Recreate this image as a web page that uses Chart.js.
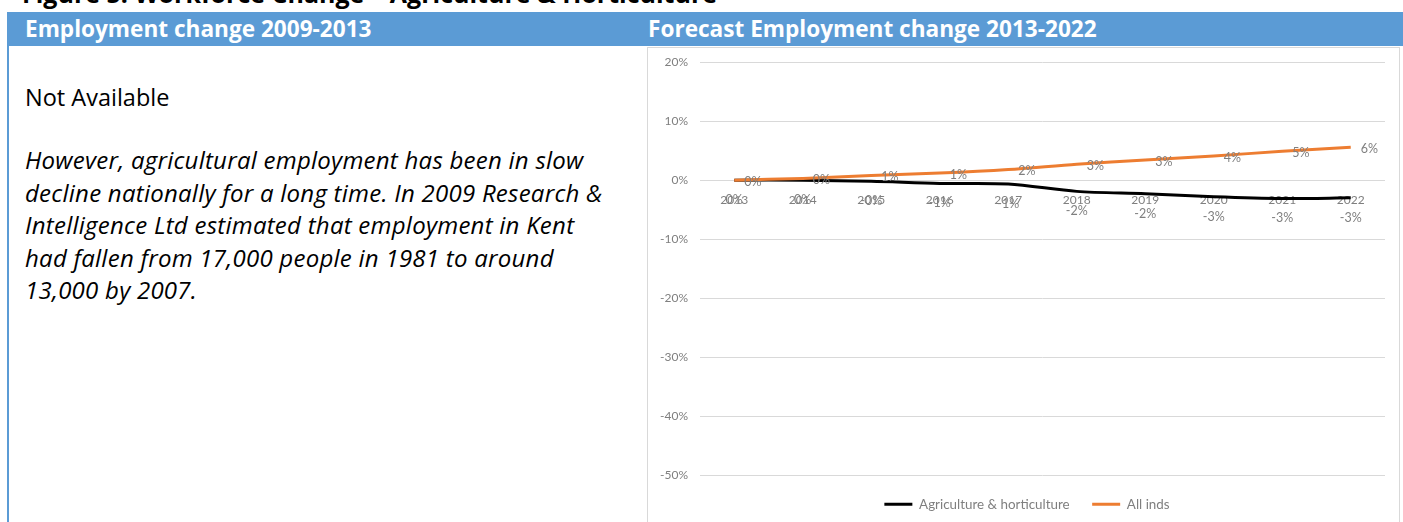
<!DOCTYPE html>
<html>
<head>
<meta charset="utf-8">
<script src="https://cdn.jsdelivr.net/npm/chart.js@4"></script>
<style>
  body { margin: 0; width: 1403px; height: 522px; overflow: hidden; background: #fff; position: relative; font-family: "Open Sans", Lato, sans-serif; }
  #title { position: absolute; left: 22px; top: -22px; font-size: 25px; line-height: 30px; font-weight: bold; color: #000; white-space: nowrap; }
  #head { position: absolute; left: 7px; top: 12px; width: 1396px; height: 34px; background: #5b9bd5; }
  #head span { position: absolute; top: 0; line-height: 34px; color: #fff; font-weight: bold; font-size: 22.6px; white-space: nowrap; }
  #leftRule { position: absolute; left: 7px; top: 46px; width: 2px; height: 480px; background: #5b9bd5; }
  #notes { position: absolute; left: 25px; top: 81px; line-height: 32.4px; color: #000; white-space: nowrap; }
  #notes p { margin: 0; }
  #notes .na { font-size: 23.5px; }
  #notes .it { font-size: 24px; letter-spacing: 0.25px; font-style: italic; margin-top: 31px; }
  #chartBox { position: absolute; left: 647px; top: 47px; width: 751px; height: 480px; border: 1px solid #d9d9d9; background: #fff; }
  #chartBox canvas { position: absolute; left: 0; top: -5px; }
</style>
</head>
<body>
<div id="title">Figure 5: Workforce Change – Agriculture &amp; Horticulture</div>
<div id="head">
  <span style="left:18px">Employment change 2009-2013</span>
  <span style="left:641px">Forecast Employment change 2013-2022</span>
</div>
<div id="leftRule"></div>
<div id="notes">
  <p class="na">Not Available</p>
  <p class="it">However, agricultural employment has been in slow<br>decline nationally for a long time. In 2009 Research &amp;<br>Intelligence Ltd estimated that employment in Kent<br>had fallen from 17,000 people in 1981 to around<br>13,000 by 2007.</p>
</div>
<div id="chartBox"><canvas id="chart" width="751" height="478"></canvas></div>

<script>
const years = ['2013', '2014', '2015', '2016', '2017', '2018', '2019', '2020', '2021', '2022']
const agriculture = [0, 0, -0.2, -0.55, -0.65, -1.9, -2.3, -2.8, -3.1, -3.0]
const allIndustries = [0, 0.3, 0.8, 1.2, 1.8, 2.7, 3.4, 4.1, 4.9, 5.6]
const yTicks = [20, 10, 0, -10, -20, -30, -40, -50]

const labelGrey = '#7f7f7f'
const chartFont = { family: 'Lato, "Open Sans", sans-serif', size: 12 }

// value labels: orange series to the right of each point, black series below
const pointLabels = {
  id: 'pointLabels',
  afterDatasetsDraw(chart) {
    const ctx = chart.ctx
    ctx.save()
    ctx.font = `12.5px ${chartFont.family}`
    ctx.fillStyle = labelGrey
    ctx.textBaseline = 'middle'
    chart.data.datasets.forEach((ds, i) => {
      const meta = chart.getDatasetMeta(i)
      meta.data.forEach((pt, j) => {
        const text = ds.data[j].toFixed(0) + '%'
        if (ds.labelSide === 'right') {
          ctx.textAlign = 'left'
          ctx.fillText(text, pt.x + 10, pt.y + 1.5)
        } else {
          ctx.textAlign = 'center'
          ctx.fillText(text, pt.x, pt.y + 20)
        }
      })
    })
    ctx.restore()
  }
}

// Excel centres the legend under the plot area, not the whole canvas
const legendNudge = {
  id: 'legendNudge',
  afterLayout(chart) {
    chart.legend.left += 10.5
    chart.legend.right += 10.5
  }
}

new Chart(document.getElementById('chart'), {
  type: 'line',
  data: {
    labels: years,
    datasets: [
      {
        label: 'Agriculture & horticulture',
        data: agriculture,
        borderColor: '#000',
        backgroundColor: '#000',
        borderWidth: 3,
        pointRadius: 0,
        tension: 0.3,
        order: 2,
        labelSide: 'below',
      },
      {
        label: 'All inds',
        data: allIndustries,
        borderColor: '#ed7d31',
        backgroundColor: '#ed7d31',
        borderWidth: 3,
        pointRadius: 0,
        tension: 0.3,
        order: 1,
        labelSide: 'right',
      },
    ],
  },
  options: {
    responsive: false,
    animation: false,
    layout: { padding: { top: 0, right: 14, left: 0, bottom: 0 } },
    scales: {
      x: {
        type: 'category',
        offset: true,
        position: { y: 0 },
        grid: { display: false, drawTicks: false },
        border: { display: false },
        ticks: { color: labelGrey, font: chartFont, padding: 13, maxRotation: 0, autoSkip: false },
      },
      y: {
        min: -50,
        max: 20,
        afterBuildTicks(scale) {
          scale.ticks = yTicks.map(v => ({ value: v }))
        },
        afterFit(scale) {
          scale.width = 52
        },
        grid: { color: '#d9d9d9', lineWidth: 1, drawTicks: false },
        border: { display: false },
        ticks: { color: labelGrey, font: chartFont, padding: 12, callback: v => v + '%' },
      },
    },
    plugins: {
      legend: {
        position: 'bottom',
        labels: {
          usePointStyle: true,
          pointStyle: 'line',
          pointStyleWidth: 28,
          color: labelGrey,
          font: { family: chartFont.family, size: 13.4 },
          padding: 22.5,
          sort: (a, b) => a.datasetIndex - b.datasetIndex,
        },
      },
      tooltip: { enabled: false },
    },
  },
  plugins: [pointLabels, legendNudge],
})
</script>
</body>
</html>
